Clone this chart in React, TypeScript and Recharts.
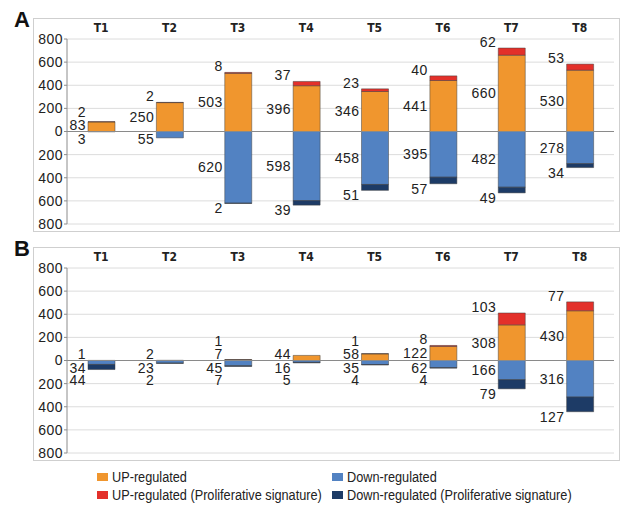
import React from "react";
import { Bar, BarChart, CartesianGrid, LabelList, ReferenceLine, XAxis, YAxis } from "recharts";

const categories = ["T1", "T2", "T3", "T4", "T5", "T6", "T7", "T8"];

// panel A
const upA = [83, 250, 503, 396, 346, 441, 660, 530];
const upProlifA = [2, 2, 8, 37, 23, 40, 62, 53];
const downA = [3, 55, 620, 598, 458, 395, 482, 278];
const downProlifA = [0, 0, 2, 39, 51, 57, 49, 34];

// panel B
const upB = [1, 2, 7, 44, 58, 122, 308, 430];
const upProlifB = [0, 0, 1, 0, 1, 8, 103, 77];
const downB = [34, 23, 45, 16, 35, 62, 166, 316];
const downProlifB = [44, 2, 7, 5, 4, 4, 79, 127];

const yTicks = [-800, -600, -400, -200, 0, 200, 400, 600, 800];

const seriesKeys = ["up", "upProlif", "down", "downProlif"] as const;
const seriesNames = [
  "UP-regulated",
  "UP-regulated (Proliferative signature)",
  "Down-regulated",
  "Down-regulated (Proliferative signature)",
];
const seriesColors = ["#F0962E", "#E3302A", "#5282C2", "#1D3B66"];

const sans = "'Liberation Sans', Arial, sans-serif";
const narrow = "'Liberation Sans Narrow', 'Arial Narrow', 'DejaVu Sans Condensed', sans-serif";

type Row = { cat: string; up: number; upProlif: number; down: number; downProlif: number };

function buildRows(up: number[], upP: number[], down: number[], downP: number[]): Row[] {
  return categories.map((cat, i) => ({
    cat,
    up: up[i],
    upProlif: upP[i],
    down: -down[i],
    downProlif: -downP[i],
  }));
}

const rowsA = buildRows(upA, upProlifA, downA, downProlifA);
const rowsB = buildRows(upB, upProlifB, downB, downProlifB);

const labelStyle = { fontSize: 14, fill: "#222", fontFamily: sans, letterSpacing: 0.5 };

function rectOf(p: any) {
  const vb = p.viewBox && p.viewBox.width != null ? p.viewBox : p;
  const y1 = Number(vb.y);
  const y2 = y1 + Number(vb.height);
  return { x: Number(vb.x), top: Math.min(y1, y2), bottom: Math.max(y1, y2) };
}

// labels sit left of the bar; small segments get pushed apart so they don't collide.
// the LabelList value is the category, the number comes from the row
function stackLabel(key: (typeof seriesKeys)[number], rows: Row[]) {
  return (p: any) => {
    const row = rows.find((d) => d.cat === p.value);
    if (!row) return null;
    const v = Math.abs(row[key]);
    if (!v) return null;
    const r = rectOf(p);
    const ppu = (r.bottom - r.top) / v;
    let ty: number;
    if (key === "up") {
      ty = Math.min((r.top + r.bottom) / 2, r.bottom - 7);
    } else if (key === "upProlif") {
      const zero = r.bottom + row.up * ppu;
      const upY = Math.min((r.bottom + zero) / 2, zero - 7);
      ty = Math.min(r.top - 6, upY - 13);
    } else if (key === "down") {
      ty = Math.max((r.top + r.bottom) / 2, r.top + 7);
    } else {
      const zero = r.top - Math.abs(row.down) * ppu;
      const dY = Math.max((zero + r.top) / 2, zero + 7);
      ty = Math.max(r.bottom + 5, dY + 12);
    }
    return (
      <text x={r.x - 2} y={ty} textAnchor="end" dominantBaseline="central" style={labelStyle}>
        {v}
      </text>
    );
  };
}

function Panel({ rows, top, letter }: { rows: Row[]; top: number; letter: string }) {
  return (
    <>
      <div
        style={{
          position: "absolute",
          left: 14,
          top: top - 11,
          font: `bold 22px ${sans}`,
          color: "#111",
        }}
      >
        {letter}
      </div>
      <div
        style={{
          position: "absolute",
          left: 33,
          top,
          width: 585,
          height: 212,
          border: "1px solid #cfcfcf",
          background: "#fff",
        }}
      >
        <BarChart
          width={585}
          height={212}
          data={rows}
          stackOffset="sign"
          barSize={27}
          margin={{ top: 2, right: 5, bottom: 7, left: 0 }}
        >
          <CartesianGrid vertical={false} stroke="#dcdcdc" />
          <XAxis
            dataKey="cat"
            orientation="top"
            height={18}
            interval={0}
            tickLine={false}
            axisLine={false}
            tickMargin={1}
            tick={{ fontSize: 12, fontWeight: 700, fontFamily: narrow, fill: "#222" }}
          />
          <YAxis
            type="number"
            domain={[-800, 800]}
            ticks={yTicks}
            interval={0}
            width={33}
            tickFormatter={(v: number) => String(Math.abs(v))}
            axisLine={{ stroke: "#8c8c8c" }}
            tickLine={{ stroke: "#8c8c8c" }}
            tickSize={3}
            tickMargin={1}
            tick={{ fontSize: 14, fill: "#222", fontFamily: sans, letterSpacing: 0.5 }}
          />
          <ReferenceLine y={0} stroke="#8a8a8a" />
          {seriesKeys.map((k, i) => (
            <Bar
              key={k}
              dataKey={k}
              name={seriesNames[i]}
              stackId="s"
              fill={seriesColors[i]}
              stroke="rgba(60,60,60,0.6)"
              strokeWidth={0.8}
              isAnimationActive={false}
            >
              <LabelList dataKey="cat" content={stackLabel(k, rows)} />
            </Bar>
          ))}
        </BarChart>
      </div>
    </>
  );
}

function Legend() {
  return (
    <div
      style={{
        position: "absolute",
        left: 97,
        top: 468,
        display: "grid",
        gridTemplateColumns: "235px 280px",
        rowGap: 1,
        font: `15.5px ${sans}`,
        color: "#222",
        lineHeight: "17px",
        whiteSpace: "nowrap",
      }}
    >
      {[0, 2, 1, 3].map((i) => (
        <div key={i} style={{ display: "flex", alignItems: "center" }}>
          <span
            style={{
              display: "inline-block",
              width: 11,
              height: 8,
              background: seriesColors[i],
              marginRight: 4,
              flex: "none",
            }}
          />
          <span
            style={{
              display: "inline-block",
              transform: "scaleX(0.82)",
              transformOrigin: "left center",
            }}
          >
            {seriesNames[i]}
          </span>
        </div>
      ))}
    </div>
  );
}

export default function App() {
  return (
    <div
      style={{
        position: "absolute",
        left: 0,
        top: 0,
        width: 623,
        height: 505,
        background: "#fff",
        overflow: "hidden",
      }}
    >
      <Panel rows={rowsA} top={18} letter="A" />
      <Panel rows={rowsB} top={247} letter="B" />
      <Legend />
    </div>
  );
}
